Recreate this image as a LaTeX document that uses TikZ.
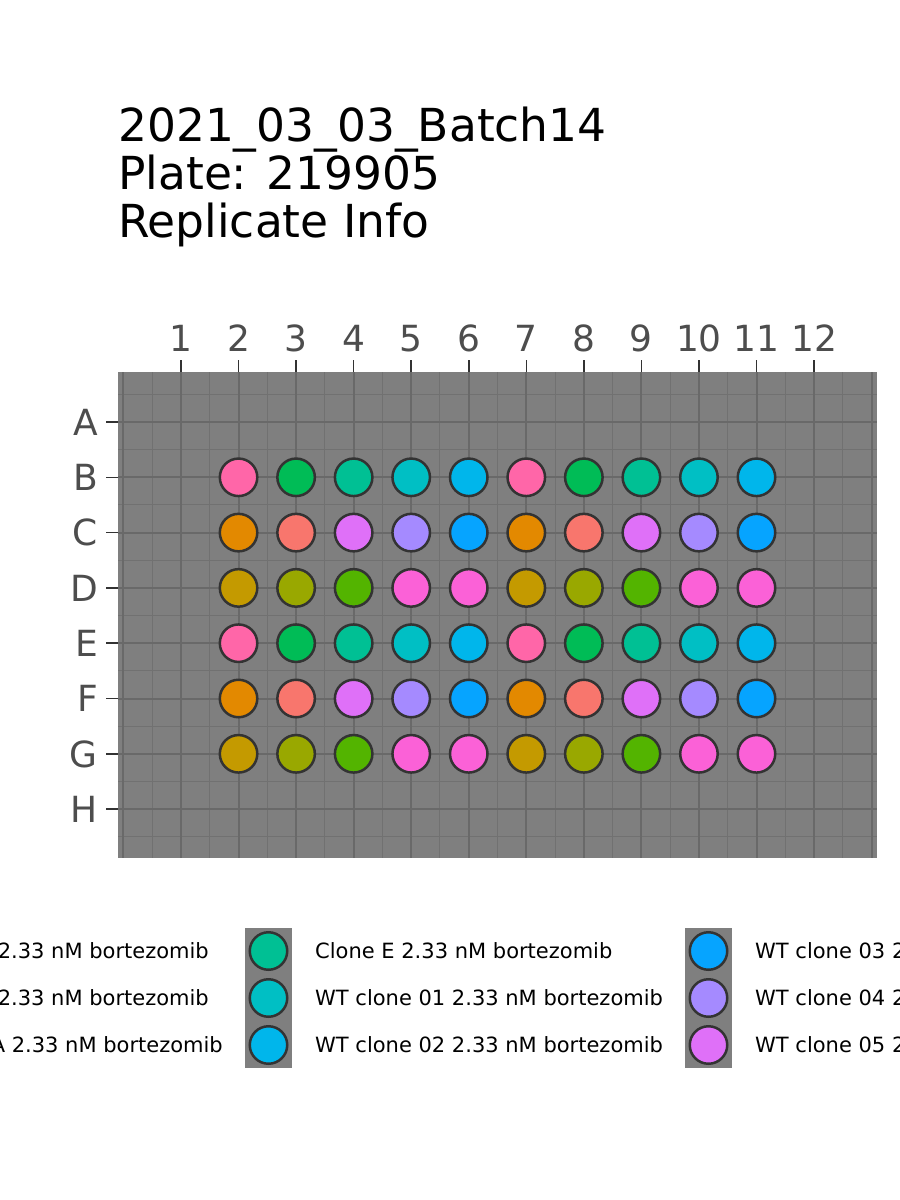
\documentclass[tikz,border=0pt]{standalone}
\usepackage{fontspec}
\setmainfont{DejaVu Sans}
\definecolor{cSalmon}{HTML}{F8766D}
\definecolor{cOrange}{HTML}{E38900}
\definecolor{cGold}{HTML}{C49A00}
\definecolor{cOlive}{HTML}{99A800}
\definecolor{cLime}{HTML}{53B400}
\definecolor{cGreen}{HTML}{00BC56}
\definecolor{cTeal}{HTML}{00C094}
\definecolor{cCyan}{HTML}{00BFC4}
\definecolor{cSky}{HTML}{00B6EB}
\definecolor{cBlue}{HTML}{06A4FF}
\definecolor{cLav}{HTML}{A58AFF}
\definecolor{cViolet}{HTML}{DF70F8}
\definecolor{cMag}{HTML}{FB61D7}
\definecolor{cPink}{HTML}{FF66A8}
\definecolor{panelgray}{HTML}{7F7F7F}
\definecolor{majorgrid}{HTML}{696969}
\definecolor{minorgrid}{HTML}{717171}
\definecolor{axtext}{HTML}{4D4D4D}
\definecolor{tickcol}{HTML}{333333}
\definecolor{wellborder}{HTML}{333333}
\tikzset{
  majorline/.style={draw=majorgrid, line width=2pt},
  minorline/.style={draw=minorgrid, line width=1pt},
  tickline/.style={draw=tickcol, line width=1.5pt},
  axlab/.style={text=axtext, font=\fontsize{36}{40}\selectfont, inner sep=0pt},
  titlelab/.style={text=black, font=\fontsize{45.5}{48}\selectfont, inner sep=0pt, anchor=base west},
  leglab/.style={text=black, font=\fontsize{21}{24}\selectfont, inner sep=0pt},
  well/.style={circle, draw=wellborder, line width=2.5pt, minimum size=37.5pt, inner sep=0pt},
  keybox/.style={fill=panelgray},
}
\begin{document}
\begin{tikzpicture}[x=1pt,y=-1pt]
\clip (0,0) rectangle (900,1200);
\fill[white] (0,0) rectangle (900,1200);
% title
\node[titlelab] (t1) at (118,141.7) {2021\_03\_03\_Batch14};
\node[titlelab] (t2) at (118,189.5) {Plate: 219905};
\node[titlelab] (t3) at (118,237) {Replicate Info};
% panel
\fill[panelgray] (118,372) rectangle (877,858);
\foreach \k in {0.5,1.5,...,12.5} {
  \draw[minorline] ({181+(\k-1)*57.55},372) -- ({181+(\k-1)*57.55},858);
}
\foreach \k in {0.5,1.5,...,8.5} {
  \draw[minorline] (118,{422+(\k-1)*55.3}) -- (877,{422+(\k-1)*55.3});
}
\foreach \k in {0,...,13} {
  \draw[majorline] ({181+(\k-1)*57.55},372) -- ({181+(\k-1)*57.55},858);
}
\foreach \k in {1,...,8} {
  \draw[majorline] (118,{422+(\k-1)*55.3}) -- (877,{422+(\k-1)*55.3});
}
% column axis
\foreach \c in {1,...,12} {
  \draw[tickline] ({181+(\c-1)*57.55},360) -- ({181+(\c-1)*57.55},372);
  \node[axlab, anchor=base] (col\c) at ({181+(\c-1)*57.55},351) {\c};
}
% row axis
\foreach \r/\l in {1/A,2/B,3/C,4/D,5/E,6/F,7/G,8/H} {
  \draw[tickline] (106,{422+(\r-1)*55.3}) -- (118,{422+(\r-1)*55.3});
  \node[axlab, anchor=base east] (row\l) at (98,{422+(\r-1)*55.3+13.3}) {\l};
}
% wells
\foreach \r/\cols in {2/{cPink,cGreen,cTeal,cCyan,cSky},
                      3/{cOrange,cSalmon,cViolet,cLav,cBlue},
                      4/{cGold,cOlive,cLime,cMag,cMag},
                      5/{cPink,cGreen,cTeal,cCyan,cSky},
                      6/{cOrange,cSalmon,cViolet,cLav,cBlue},
                      7/{cGold,cOlive,cLime,cMag,cMag}} {
  \foreach \col [count=\i] in \cols {
    \pgfmathtruncatemacro{\ca}{\i+1}
    \pgfmathtruncatemacro{\cb}{\i+6}
    \node[well, fill=\col] (w\r-\ca) at ({181+(\ca-1)*57.55},{422+(\r-1)*55.3}) {};
    \node[well, fill=\col] (w\r-\cb) at ({181+(\cb-1)*57.55},{422+(\r-1)*55.3}) {};
  }
}
% legend keys
\fill[keybox] (245,928) rectangle (292,1068);
\node[well, fill=cTeal] (k1) at (268.5,951) {};
\node[well, fill=cCyan] (k2) at (268.5,998) {};
\node[well, fill=cSky] (k3) at (268.5,1045) {};
\fill[keybox] (685,928) rectangle (732,1068);
\node[well, fill=cBlue] (k4) at (708.5,951) {};
\node[well, fill=cLav] (k5) at (708.5,998) {};
\node[well, fill=cViolet] (k6) at (708.5,1045) {};
% legend labels
\node[leglab, anchor=base east] (l0a) at (209,958.5) {2.33 nM bortezomib};
\node[leglab, anchor=base east] (l0b) at (209,1005.5) {2.33 nM bortezomib};
\node[leglab, anchor=base east] (l0c) at (223,1052.5) {A 2.33 nM bortezomib};
\node[leglab, anchor=base west] (l1) at (315,958.5) {Clone E 2.33 nM bortezomib};
\node[leglab, anchor=base west] (l2) at (315,1005.5) {WT clone 01 2.33 nM bortezomib};
\node[leglab, anchor=base west] (l3) at (315,1052.5) {WT clone 02 2.33 nM bortezomib};
\node[leglab, anchor=base west] (l4) at (755,958.5) {WT clone 03 2.33 nM bortezomib};
\node[leglab, anchor=base west] (l5) at (755,1005.5) {WT clone 04 2.33 nM bortezomib};
\node[leglab, anchor=base west] (l6) at (755,1052.5) {WT clone 05 2.33 nM bortezomib};
\end{tikzpicture}
\end{document}
